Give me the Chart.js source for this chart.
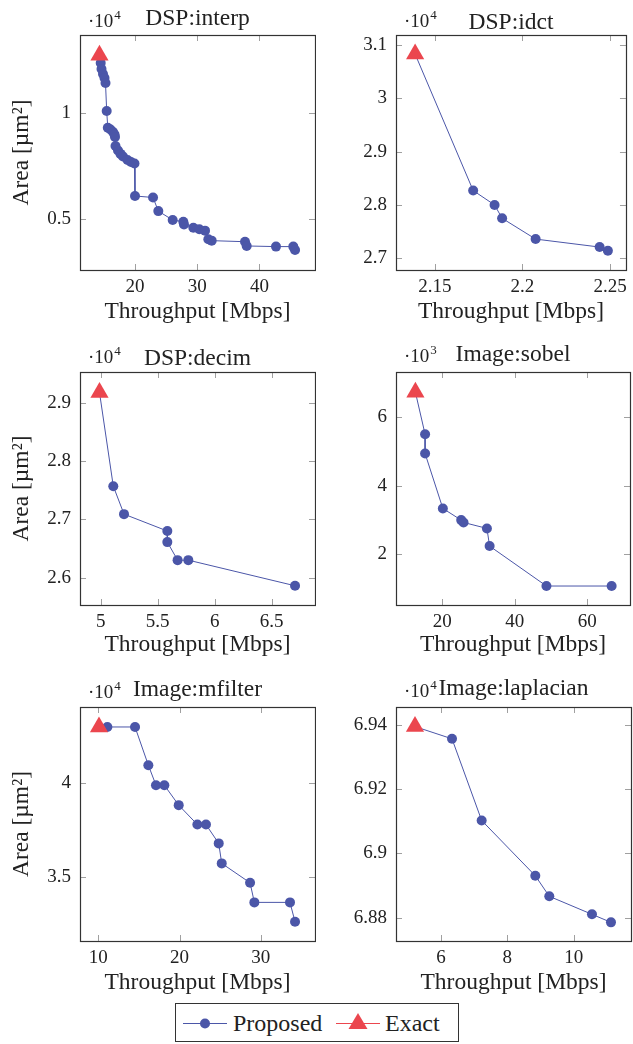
<!DOCTYPE html>
<html>
<head>
<meta charset="utf-8">
<script src="https://cdn.jsdelivr.net/npm/chart.js@4.4.0/dist/chart.umd.min.js"></script>
<style>
  body { margin: 0; background: #fff; width: 633px; height: 1044px; position: relative; overflow: hidden; }
  canvas { position: absolute; }
  #legend { position: absolute; left: 175px; top: 1003px; }
</style>
</head>
<body>
<canvas id="interp" width="316" height="330" style="left:0;top:0"></canvas>
<canvas id="idct" width="317" height="330" style="left:316px;top:0"></canvas>
<canvas id="decim" width="316" height="330" style="left:0;top:330px"></canvas>
<canvas id="sobel" width="317" height="330" style="left:316px;top:330px"></canvas>
<canvas id="mfilter" width="316" height="340" style="left:0;top:660px"></canvas>
<canvas id="laplacian" width="317" height="340" style="left:316px;top:660px"></canvas>

<svg id="legend" width="284" height="39">
  <rect x="0.5" y="0.5" width="283" height="38" fill="#fff" stroke="#333" stroke-width="1"/>
  <line x1="8" y1="20.5" x2="52" y2="20.5" stroke="rgb(75,86,168)" stroke-width="1"/>
  <circle cx="30" cy="20.5" r="5" fill="rgb(75,86,168)"/>
  <text x="58" y="28" font-family="Liberation Serif" font-size="24" fill="#222">Proposed</text>
  <line x1="161" y1="20.5" x2="205" y2="20.5" stroke="rgb(235,70,78)" stroke-width="1"/>
  <polygon points="183,10 192.5,26 173.5,26" fill="rgb(235,70,78)"/>
  <text x="210" y="28" font-family="Liberation Serif" font-size="24" fill="#222">Exact</text>
</svg>

<script>
// DSP:interp
const interpExact = [14.28, 12700];
const interpThroughput = [14.48, 14.61, 14.85, 15.09, 15.25, 15.44, 15.62, 16.05, 16.46, 16.70, 16.78, 16.86, 17.26, 17.66, 18.06, 18.79, 19.35, 19.91, 19.99, 22.89, 23.74, 26.05, 27.76, 27.87, 29.37, 30.33, 31.25, 31.78, 32.32, 37.68, 37.95, 42.66, 45.44, 45.72];
const interpArea = [12330, 12050, 11820, 11630, 11390, 10080, 9290, 9210, 9090, 8970, 8850, 8430, 8220, 8060, 7940, 7770, 7680, 7610, 6080, 6010, 5370, 4950, 4870, 4740, 4590, 4520, 4450, 4050, 3980, 3930, 3730, 3700, 3700, 3540];
const interpXTicks = [20, 30, 40];
const interpYTicks = [5000, 10000];

// DSP:idct
const idctExact = [2.1388, 30830];
const idctThroughput = [2.1719, 2.1841, 2.1884, 2.2075, 2.2440, 2.2487];
const idctArea = [28270, 28000, 27750, 27360, 27210, 27140];
const idctXTicks = [2.15, 2.2, 2.25];
const idctYTicks = [27000, 28000, 29000, 30000, 31000];

// DSP:decim
const decimExact = [4.99, 29180];
const decimThroughput = [5.111, 5.205, 5.585, 5.585, 5.675, 5.769, 6.705];
const decimArea = [27570, 27090, 26800, 26610, 26300, 26300, 25860];
const decimXTicks = [5, 5.5, 6, 6.5];
const decimYTicks = [26000, 27000, 28000, 29000];

// Image:sobel
const sobelExact = [12.63, 6720];
const sobelThroughput = [15.3, 15.3, 20.2, 25.25, 25.9, 32.35, 33.09, 48.76, 66.73];
const sobelArea = [5496, 4935, 3337, 2998, 2930, 2756, 2242, 1080, 1080];
const sobelXTicks = [20, 40, 60];
const sobelYTicks = [2000, 4000, 6000];

// Image:mfilter
const mfilterExact = [10.08, 42950];
const mfilterThroughput = [11.11, 14.52, 16.16, 17.10, 18.13, 19.90, 22.20, 23.26, 24.83, 25.20, 28.69, 29.22, 33.61, 34.23];
const mfilterArea = [42950, 42950, 40920, 39860, 39860, 38800, 37770, 37770, 36770, 35710, 34680, 33640, 33640, 32610];
const mfilterXTicks = [10, 20, 30];
const mfilterYTicks = [35000, 40000];

// Image:laplacian
const laplacianExact = [5.216, 69394];
const laplacianThroughput = [6.332, 7.226, 8.844, 9.266, 10.553, 11.126];
const laplacianArea = [69356, 69102, 68930, 68866, 68810, 68785];
const laplacianXTicks = [6, 8, 10];
const laplacianYTicks = [68800, 69000, 69200, 69400];

const BLUE = 'rgb(75,86,168)';
const RED = 'rgb(235,70,78)';
const FONT = '"Liberation Serif", "Times New Roman", serif';

Chart.defaults.font.family = FONT;
Chart.defaults.color = '#222';

function fmt(v) {
    return String(parseFloat(v.toFixed(4)));
}

// marco, ticks interiores, titulo y exponente
const decor = {
    id: 'decor',
    beforeDatasetsDraw(chart, args, opts) {
        const { ctx, chartArea: { left, right, top, bottom }, scales: { x, y } } = chart;
        ctx.save();
        ctx.strokeStyle = '#a0a0a0';
        ctx.lineWidth = 1;
        ctx.beginPath();
        x.ticks.forEach(t => {
            const px = Math.round(x.getPixelForValue(t.value)) + 0.5;
            ctx.moveTo(px, top); ctx.lineTo(px, top + 6);
            ctx.moveTo(px, bottom); ctx.lineTo(px, bottom - 6);
        });
        y.ticks.forEach(t => {
            const py = Math.round(y.getPixelForValue(t.value)) + 0.5;
            ctx.moveTo(left, py); ctx.lineTo(left + 6, py);
            ctx.moveTo(right, py); ctx.lineTo(right - 6, py);
        });
        ctx.stroke();
        ctx.restore();
    },
    afterDraw(chart, args, opts) {
        const { ctx, chartArea: { left, right, top, bottom } } = chart;
        ctx.save();
        ctx.strokeStyle = '#333';
        ctx.lineWidth = 1.2;
        ctx.strokeRect(Math.round(left) + 0.5, Math.round(top) + 0.5, Math.round(right - left), Math.round(bottom - top));

        ctx.fillStyle = '#222';
        ctx.textBaseline = 'alphabetic';
        ctx.textAlign = 'center';
        ctx.font = '23.5px ' + FONT;
        ctx.fillText(opts.title, (left + right) / 2, opts.titleY);

        ctx.textAlign = 'left';
        ctx.font = '19px ' + FONT;
        const ex = left + 8;
        ctx.fillText('\u00B710', ex, opts.expY);
        const w = ctx.measureText('\u00B710').width;
        ctx.font = '13px ' + FONT;
        ctx.fillText(String(opts.exp), ex + w + 1, opts.expY - 8);
        ctx.restore();
    }
};

function panel(id, p) {
    const factor = Math.pow(10, p.exp);
    const pts = p.xs.map((v, i) => ({ x: v, y: p.ys[i] }));
    const line = [{ x: p.exact[0], y: p.exact[1] }].concat(pts);
    new Chart(document.getElementById(id), {
        type: 'scatter',
        data: {
            datasets: [{
                label: 'Exact',
                data: [{ x: p.exact[0], y: p.exact[1] }],
                pointStyle: 'triangle',
                pointRadius: 10.5,
                backgroundColor: RED,
                borderColor: RED,
                borderWidth: 0,
                clip: false,
                order: 0
            }, {
                label: 'Proposed',
                data: line,
                showLine: true,
                borderColor: BLUE,
                backgroundColor: BLUE,
                borderWidth: 1,
                pointRadius: line.map((d, i) => i === 0 ? 0 : 5),
                pointBorderWidth: 0,
                clip: false,
                order: 1
            }]
        },
        options: {
            responsive: false,
            animation: false,
            events: [],
            layout: {
                autoPadding: false,
                padding: { left: 0, top: p.padTop, right: p.padRight, bottom: 0 }
            },
            scales: {
                x: {
                    type: 'linear',
                    min: p.xMin,
                    max: p.xMax,
                    afterFit: s => { s.height = p.xHeight; },
                    afterBuildTicks: s => { s.ticks = p.xTicks.map(v => ({ value: v })); },
                    grid: { display: false, drawTicks: false },
                    border: { display: false },
                    ticks: { padding: 6, font: { size: 19 }, color: '#222', maxRotation: 0, callback: v => fmt(v) },
                    title: { display: true, text: 'Throughput [Mbps]', font: { size: 23.5 }, color: '#222', padding: { top: 0, bottom: p.xTitlePad } }
                },
                y: {
                    type: 'linear',
                    min: p.yMin,
                    max: p.yMax,
                    afterFit: s => { s.width = 80; },
                    afterBuildTicks: s => { s.ticks = p.yTicks.map(v => ({ value: v })); },
                    grid: { display: false, drawTicks: false },
                    border: { display: false },
                    ticks: { padding: 9, font: { size: 19 }, color: '#222', callback: v => fmt(v / factor) },
                    title: { display: p.yTitle, text: 'Area [\u00B5m\u00B2]', font: { size: 23.5 }, color: '#222', padding: { top: 8, bottom: 0 } }
                }
            },
            plugins: {
                legend: { display: false },
                tooltip: { enabled: false },
                decor: { title: p.title, titleY: p.titleY, expY: p.expY, exp: p.exp }
            }
        },
        plugins: [decor]
    });
}

panel('interp', {
    title: 'DSP:interp', exact: interpExact, xs: interpThroughput, ys: interpArea,
    xTicks: interpXTicks, yTicks: interpYTicks, exp: 4,
    xMin: 11.15, xMax: 48.93, yMin: 2600, yMax: 13650,
    padTop: 35, padRight: 1, xHeight: 60, xTitlePad: 4, yTitle: true, titleY: 25, expY: 27
});
panel('idct', {
    title: 'DSP:idct', exact: idctExact, xs: idctThroughput, ys: idctArea,
    xTicks: idctXTicks, yTicks: idctYTicks, exp: 4,
    xMin: 2.1279, xMax: 2.259, yMin: 26780, yMax: 31188,
    padTop: 35, padRight: 3, xHeight: 60, xTitlePad: 4, yTitle: false, titleY: 29, expY: 27
});
panel('decim', {
    title: 'DSP:decim', exact: decimExact, xs: decimThroughput, ys: decimArea,
    xTicks: decimXTicks, yTicks: decimYTicks, exp: 4,
    xMin: 4.819, xMax: 6.88, yMin: 25530, yMax: 29530,
    padTop: 42, padRight: 1, xHeight: 55, xTitlePad: 1, yTitle: true, titleY: 35, expY: 33
});
panel('sobel', {
    title: 'Image:sobel', exact: sobelExact, xs: sobelThroughput, ys: sobelArea,
    xTicks: sobelXTicks, yTicks: sobelYTicks, exp: 3,
    xMin: 7.28, xMax: 71.8, yMin: 528, yMax: 7307,
    padTop: 42, padRight: 3, xHeight: 55, xTitlePad: 1, yTitle: false, titleY: 31, expY: 32
});
panel('mfilter', {
    title: 'Image:mfilter', exact: mfilterExact, xs: mfilterThroughput, ys: mfilterArea,
    xTicks: mfilterXTicks, yTicks: mfilterYTicks, exp: 4,
    xMin: 7.74, xMax: 36.69, yMin: 31590, yMax: 44010,
    padTop: 47, padRight: 1, xHeight: 59, xTitlePad: 3, yTitle: true, titleY: 36, expY: 38
});
panel('laplacian', {
    title: 'Image:laplacian', exact: laplacianExact, xs: laplacianThroughput, ys: laplacianArea,
    xTicks: laplacianXTicks, yTicks: laplacianYTicks, exp: 4,
    xMin: 4.643, xMax: 11.73, yMin: 68727, yMax: 69455,
    padTop: 47, padRight: 2, xHeight: 59, xTitlePad: 3, yTitle: false, titleY: 35, expY: 37
});
</script>
</body>
</html>
